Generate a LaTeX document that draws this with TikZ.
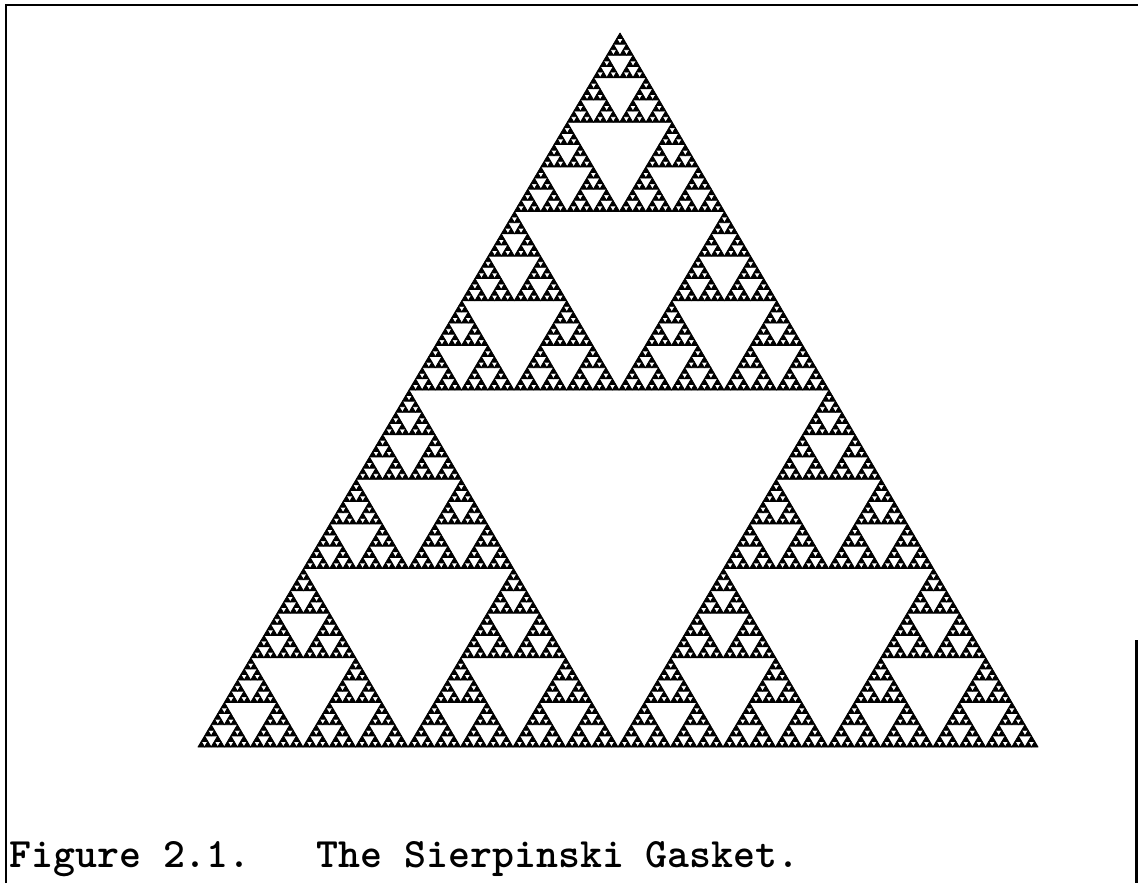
\documentclass[tikz,border=0pt]{standalone}
\usepackage{fontspec}
\usetikzlibrary{positioning}

% one level of the gasket: depth, left corner, right corner, top corner
\newcommand\gasketpart[7]{%
  \ifnum#1=0
    \fill[gasket] (#2,#3) -- (#4,#5) -- (#6,#7) -- cycle;
  \else
    \begingroup
      \pgfmathsetmacro\gabx{(#2+#4)/2}%
      \pgfmathsetmacro\gaby{(#3+#5)/2}%
      \pgfmathsetmacro\gacx{(#2+#6)/2}%
      \pgfmathsetmacro\gacy{(#3+#7)/2}%
      \pgfmathsetmacro\gbcx{(#4+#6)/2}%
      \pgfmathsetmacro\gbcy{(#5+#7)/2}%
      \pgfmathtruncatemacro\gdepth{#1-1}%
      \edef\gnext{%
        \noexpand\gasketpart{\gdepth}{#2}{#3}{\gabx}{\gaby}{\gacx}{\gacy}%
        \noexpand\gasketpart{\gdepth}{\gabx}{\gaby}{#4}{#5}{\gbcx}{\gbcy}%
        \noexpand\gasketpart{\gdepth}{\gacx}{\gacy}{\gbcx}{\gbcy}{#6}{#7}}%
      \gnext
    \endgroup
  \fi}

\begin{document}
\begin{tikzpicture}[%
      x=0.02cm, y=-0.02cm,
      gasket/.style={%
        fill       = black,
        draw       = black,
        line width = 0.45pt,
        line join  = round,
      },
      frameline/.style={%
        draw       = black,
        line width = 1.7pt,
      },
      caption/.style={%
        font       = \ttfamily\bfseries\fontsize{23.8}{28}\selectfont\frenchspacing,
        inner sep  = 0pt,
        anchor     = base west,
      }
      ]

      \useasboundingbox (0,0) rectangle (1138,883);

      % frame
      \draw[frameline] (6,883) -- (6,5) -- (1138,5);
      \draw[frameline] (1136,640) -- (1136,883);

      % the gasket
      \coordinate (left)  at (198,747);
      \coordinate (right) at (1038,747);
      \coordinate (top)   at (620,33);
      \gasketpart{7}{198}{747}{1038}{747}{620}{33}

      \node[caption] (caption) at (9,867) {Figure 2.1.\ \ \ The Sierpinski Gasket.};

    \end{tikzpicture}
\end{document}
